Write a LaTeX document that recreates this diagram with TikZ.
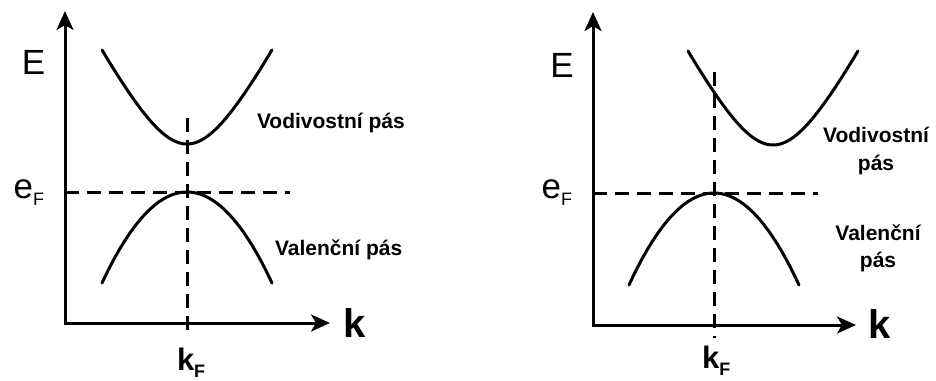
\documentclass[tikz,border=0pt]{standalone}
\usepackage{fontspec}
\setmainfont{Liberation Sans}
\usetikzlibrary{arrows.meta}
\begin{document}
\begin{tikzpicture}[x=1pt,y=-1pt,
  axes/.style={line width=3pt,line join=miter,
    {Stealth[length=19pt,width=17pt,inset=5pt]}-{Stealth[length=19pt,width=17pt,inset=5pt]}},
  band/.style={line width=3pt,line cap=round},
  guide/.style={line width=3pt,dash pattern=on 14pt off 8pt},
  lbl/.style={inner sep=0pt,outer sep=0pt},
  bigE/.style={lbl,font=\fontsize{35}{35}\selectfont},
  bigk/.style={lbl,font=\bfseries\fontsize{40}{40}\selectfont},
  kf/.style={lbl,font=\bfseries\fontsize{31}{31}\selectfont},
  ef/.style={lbl,font=\fontsize{35}{35}\selectfont},
  band label/.style={lbl,font=\bfseries\fontsize{21}{21}\selectfont}
]
\useasboundingbox[fill=white] (0,0) rectangle (936,380);

% ---------- left panel ----------
\coordinate (Ot1) at (65,11);
\coordinate (O1) at (65,323);
\coordinate (Xe1) at (330,323);
\draw[axes] (Ot1) -- (O1) -- (Xe1);

\coordinate (hL1) at (65,192);
\coordinate (hR1) at (290,192);
\draw[guide] (hL1) -- (hR1);
\coordinate (vT1) at (187,118);
\coordinate (vB1) at (187,337);
\draw[guide] (vT1) -- (vB1);

\draw[band] plot[domain=-85:85,samples=80,smooth] ({187+\x},{144-96.7*(sqrt(1+(\x/50)^2)-1)});
\draw[band] plot[domain=-85:85,samples=80,smooth] ({187+\x},{192+91*(\x/85)^2});

\node[bigE,anchor=center] (E1) at (33.5,62.5) {E};
\node[ef,anchor=base east] (eF1) at (44,198) {e{\fontsize{18}{18}\selectfont\raisebox{-7pt}{F}}};
\node[kf,anchor=base west] (kF1) at (177,370) {k{\fontsize{18}{18}\selectfont\raisebox{-7pt}{F}}};
\node[bigk,anchor=base west] (k1) at (343,337) {k};
\node[band label,anchor=base west] (cb1) at (257,128) {Vodivostní pás};
\node[band label,anchor=base west] (vb1) at (275,255) {Valenční pás};

% ---------- right panel ----------
\coordinate (Ot2) at (593,12);
\coordinate (O2) at (593,325);
\coordinate (Xe2) at (856,325);
\draw[axes] (Ot2) -- (O2) -- (Xe2);

\coordinate (hL2) at (593,193);
\coordinate (hR2) at (818,193);
\draw[guide] (hL2) -- (hR2);
\coordinate (vT2) at (714,72);
\coordinate (vB2) at (714,338);
\draw[guide] (vT2) -- (vB2);

\draw[band] plot[domain=-85:85,samples=80,smooth] ({773+\x},{145-96.7*(sqrt(1+(\x/50)^2)-1)});
\draw[band] plot[domain=-85:85,samples=80,smooth] ({714+\x},{193+92*(\x/85)^2});

\node[bigE,anchor=center] (E2) at (562,65.5) {E};
\node[ef,anchor=base east] (eF2) at (572,198) {e{\fontsize{18}{18}\selectfont\raisebox{-7pt}{F}}};
\node[kf,anchor=base west] (kF2) at (702,368) {k{\fontsize{18}{18}\selectfont\raisebox{-7pt}{F}}};
\node[bigk,anchor=base west] (k2) at (868,338) {k};
\node[band label,anchor=base] (cb2a) at (876,142) {Vodivostní};
\node[band label,anchor=base] (cb2b) at (876,170) {pás};
\node[band label,anchor=base] (vb2a) at (878,240) {Valenční};
\node[band label,anchor=base] (vb2b) at (878,267) {pás};
\end{tikzpicture}
\end{document}
